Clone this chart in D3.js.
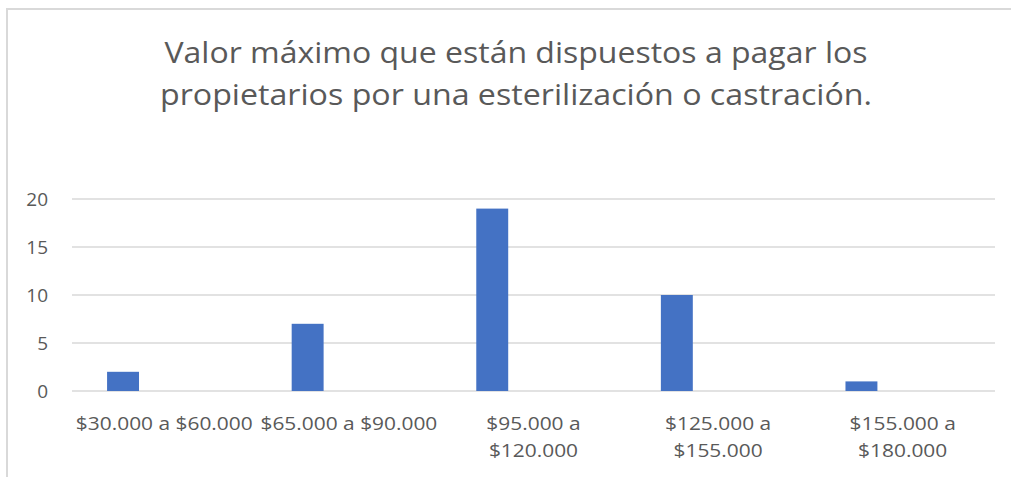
<!DOCTYPE html>
<html>
<head>
<meta charset="utf-8">
<script src="https://cdn.jsdelivr.net/npm/d3@7"></script>
<style>
  html, body { margin: 0; padding: 0; background: #fff; }
  svg { display: block; }
  text { font-family: "Open Sans", "Noto Sans", sans-serif; fill: #595959; }
</style>
</head>
<body>
<svg id="chart" width="1011" height="477"></svg>
<script>
// ---- data ----
const titleLines = ["Valor máximo que están dispuestos a pagar los",
                    "propietarios por una esterilización o castración."];
const categories = ["$30.000 a $60.000", "$65.000 a $90.000", "$95.000 a $120.000",
                    "$125.000 a $155.000", "$155.000 a $180.000"];
const categoryLines = [["$30.000 a $60.000"], ["$65.000 a $90.000"], ["$95.000 a", "$120.000"],
                       ["$125.000 a", "$155.000"], ["$155.000 a", "$180.000"]];
const values = [2, 7, 19, 10, 1];
const yTicks = [0, 5, 10, 15, 20];

// ---- layout ----
const W = 1011, H = 477;
const plot = { left: 72, right: 995, top: 199, bottom: 391 };
const svg = d3.select("#chart");

// chart border
svg.append("rect")
  .attr("x", 7).attr("y", 9).attr("width", W + 20).attr("height", H + 20)
  .attr("fill", "#fff").attr("stroke", "#d9d9d9").attr("stroke-width", 2);

// title
const titleWidths = [703, 712];
svg.append("g").selectAll("text").data(titleLines).join("text")
  .attr("x", 516).attr("y", (d, i) => 63 + i * 42)
  .attr("text-anchor", "middle")
  .style("font-size", "29px")
  .attr("textLength", (d, i) => titleWidths[i])
  .attr("lengthAdjust", "spacingAndGlyphs")
  .text(d => d);

// scales
const x = d3.scaleBand().domain(categories).range([plot.left, plot.right]).paddingInner(0).paddingOuter(0);
const y = d3.scaleLinear().domain([0, 20]).range([plot.bottom, plot.top]);

// gridlines
svg.append("g").selectAll("line").data(yTicks).join("line")
  .attr("x1", plot.left).attr("x2", plot.right)
  .attr("y1", d => y(d)).attr("y2", d => y(d))
  .attr("stroke", "#d9d9d9").attr("stroke-width", 1.6);

// y axis labels
const yAxis = d3.axisLeft(y).tickValues(yTicks).tickSize(0).tickPadding(0);
const yg = svg.append("g").attr("transform", `translate(48,0)`).call(yAxis);
yg.select(".domain").remove();
yg.selectAll("text").style("font-size", "19px").attr("fill", "#595959").attr("x", 0).attr("dy", "0.36em");

// bars
const bw = x.bandwidth();
svg.append("g").selectAll("rect").data(values).join("rect")
  .attr("x", (d, i) => x(categories[i]) + bw * 0.19)
  .attr("width", bw * 0.173)
  .attr("y", d => y(d))
  .attr("height", d => y(0) - y(d))
  .attr("fill", "#4472c4");

// x axis labels
const stretch = 1.1;
const xg = svg.append("g");
categories.forEach((c, i) => {
  const cx = x(c) + bw / 2;
  categoryLines[i].forEach((line, j) => {
    const t = xg.append("text")
      .attr("x", cx).attr("y", 430 + j * 27)
      .attr("text-anchor", "middle")
      .style("font-size", "19px")
      .text(line);
    const w = t.node().getComputedTextLength();
    t.attr("textLength", w * stretch).attr("lengthAdjust", "spacingAndGlyphs");
  });
});
</script>
</body>
</html>
